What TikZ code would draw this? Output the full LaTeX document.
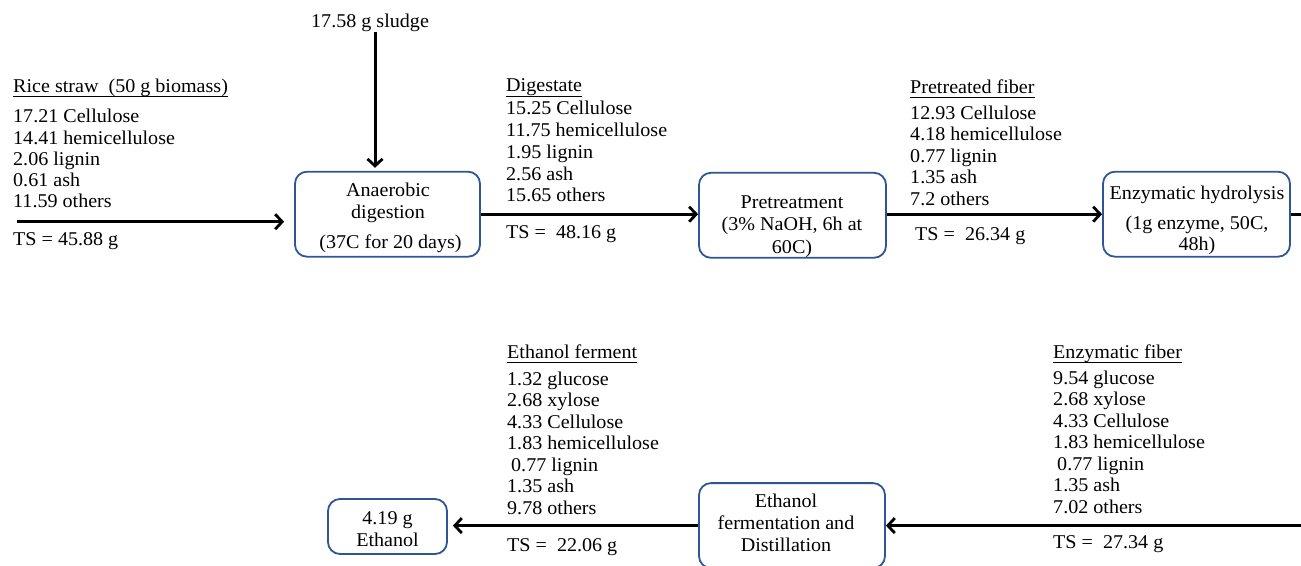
\documentclass[tikz,border=0pt]{standalone}
\usepackage{fontspec}
\setmainfont{Liberation Serif}[FakeStretch=1.03]
\usetikzlibrary{arrows.meta,calc}
\definecolor{boxblue}{RGB}{47,85,151}
\newcommand{\myul}[1]{\setbox0\hbox{#1}\rlap{\rule[-5pt]{\wd0}{1.1pt}}\box0}
\tikzset{
  every node/.style={font=\fontsize{19.5}{21.4}\selectfont, inner sep=0pt},
  lbl/.style={anchor=base west},
  blk/.style={anchor=base west, align=left},
  procbox/.style={draw=boxblue, line width=1.8pt, rounded corners=12pt},
  boxtxt/.style={anchor=base, align=center},
  flow/.style={line width=3pt, -{Straight Barb[length=7pt,width=15pt,line width=2.8pt]}}
}
\begin{document}
\begin{tikzpicture}[x=1pt,y=-1pt]
\useasboundingbox (0,0) rectangle (1301,565);

% process boxes (text nodes anchored on the baseline of their last line)
\node[procbox, minimum width=185pt, minimum height=85pt] (ana) at (387.5,214.2) {};
\node[boxtxt] (anatxt) at (388,248) {Anaerobic\\digestion\\[8.5pt]\hspace{5pt}(37C for 20 days)};
\node[procbox, minimum width=187pt, minimum height=85pt] (pre) at (792.5,215.3) {};
\node[boxtxt, font=\fontsize{19.5}{22.5}\selectfont] (pretxt) at (792,253) {Pretreatment\\(3\% NaOH, 6h at\\60C)};
\node[procbox, minimum width=187pt, minimum height=85pt] (hyd) at (1196.5,214.2) {};
\node[boxtxt, font=\fontsize{19.5}{20.5}\selectfont] (hydtxt) at (1197,250) {Enzymatic hydrolysis\\[9.5pt](1g enzyme, 50C,\\48h)};
\node[procbox, minimum width=186pt, minimum height=85pt] (ferm) at (792,525.6) {};
\node[boxtxt, font=\fontsize{19.5}{22.2}\selectfont] (fermtxt) at (786,551.7) {Ethanol\\fermentation and\\Distillation};
\node[procbox, minimum width=119pt, minimum height=55pt] (eth) at (387.5,526.5) {};
\node[boxtxt] (ethtxt) at (387.5,546) {4.19 g\\Ethanol};

% sludge
\node[lbl] (sludge) at (311,27) {17.58 g sludge};

% rice straw block
\node[lbl] (ricet) at (13,92) {\myul{Rice straw\ \ (50 g biomass)}};
\node[blk, font=\fontsize{19.5}{21.1}\selectfont] (riceb) at (13,207.3) {17.21 Cellulose\\14.41 hemicellulose\\2.06 lignin\\0.61 ash\\11.59 others};
\node[lbl] (rices) at (13,245) {TS = 45.88 g};

% digestate block
\node[lbl] (digt) at (506,91.7) {\myul{Digestate}};
\node[blk, font=\fontsize{19.5}{21.7}\selectfont] (digb) at (506,201.7) {15.25 Cellulose\\11.75 hemicellulose\\1.95 lignin\\2.56 ash\\15.65 others};
\node[lbl] (digs) at (506,238) {TS =\ \ 48.16 g};

% pretreated fiber block
\node[lbl] (ptft) at (910,93.3) {\myul{Pretreated fiber}};
\node[blk] (ptfb) at (910,205) {12.93 Cellulose\\4.18 hemicellulose\\0.77 lignin\\1.35 ash\\7.2 others};
\node[lbl] (ptfs) at (915,240) {TS =\ \ 26.34 g};

% ethanol ferment block
\node[lbl] (eft) at (507,358.3) {\myul{Ethanol ferment}};
\node[blk, font=\fontsize{19.5}{21.5}\selectfont] (efb) at (507,514) {1.32 glucose\\2.68 xylose\\4.33 Cellulose\\1.83 hemicellulose\\\hspace{4pt}0.77 lignin\\1.35 ash\\9.78 others};
\node[lbl] (efs) at (507,551.7) {TS =\ \ 22.06 g};

% enzymatic fiber block
\node[lbl] (enft) at (1053,358) {\myul{Enzymatic fiber}};
\node[blk, font=\fontsize{19.5}{21.5}\selectfont] (enfb) at (1053,513.3) {9.54 glucose\\2.68 xylose\\4.33 Cellulose\\1.83 hemicellulose\\\hspace{4pt}0.77 lignin\\1.35 ash\\7.02 others};
\node[lbl] (enfs) at (1053,548) {TS =\ \ 27.34 g};

% connectors
\coordinate (ricestart) at (17,221.7);
\coordinate (sludgestart) at (375,32);
\coordinate (rtop) at (1306,214.2);
\coordinate (rbot) at (1306,525.6);
\draw[flow, shorten >=10pt] (ricestart) -- (ricestart -| ana.west);
\draw[flow, shorten >=3pt] (sludgestart) -- (sludgestart |- ana.north);
\draw[flow] (ana.east) -- (ana.east -| pre.west);
\draw[flow] (pre.east |- hyd.west) -- (hyd.west);
\draw[flow] (hyd.east) -- (rtop) -- (rbot) -- (ferm.east);
\draw[flow, shorten >=5pt] (ferm.west) -- (ferm.west -| eth.east);
\end{tikzpicture}
\end{document}
